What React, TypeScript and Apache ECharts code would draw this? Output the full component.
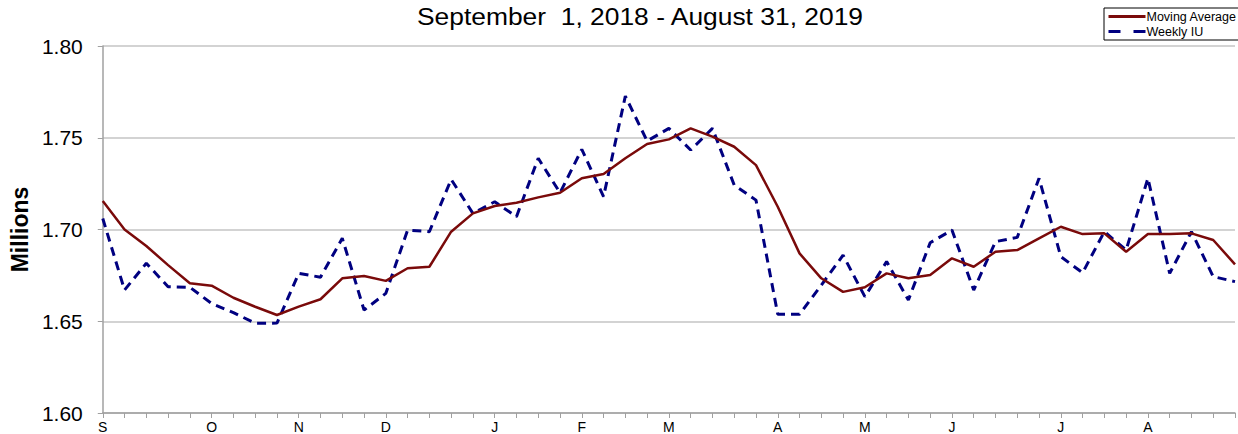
import React, { useEffect, useRef } from "react";
import * as echarts from "echarts";

const weekDates: string[] = [
  "2018-09-01", "2018-09-08", "2018-09-15", "2018-09-22", "2018-09-29",
  "2018-10-06", "2018-10-13", "2018-10-20", "2018-10-27",
  "2018-11-03", "2018-11-10", "2018-11-17", "2018-11-24",
  "2018-12-01", "2018-12-08", "2018-12-15", "2018-12-22", "2018-12-29",
  "2019-01-05", "2019-01-12", "2019-01-19", "2019-01-26",
  "2019-02-02", "2019-02-09", "2019-02-16", "2019-02-23",
  "2019-03-02", "2019-03-09", "2019-03-16", "2019-03-23", "2019-03-30",
  "2019-04-06", "2019-04-13", "2019-04-20", "2019-04-27",
  "2019-05-04", "2019-05-11", "2019-05-18", "2019-05-25",
  "2019-06-01", "2019-06-08", "2019-06-15", "2019-06-22", "2019-06-29",
  "2019-07-06", "2019-07-13", "2019-07-20", "2019-07-27",
  "2019-08-03", "2019-08-10", "2019-08-17", "2019-08-24", "2019-08-31",
];

const monthInitials: string[] = ["J", "F", "M", "A", "M", "J", "J", "A", "S", "O", "N", "D"];

const movingAverage: number[] = [
  1.7155, 1.700, 1.691, 1.6806, 1.6707, 1.6694, 1.6628, 1.6579, 1.6534, 1.658,
  1.662, 1.6734, 1.6747, 1.672, 1.6789, 1.6797, 1.6988, 1.7088, 1.7128, 1.7146,
  1.7175, 1.720, 1.7279, 1.7302, 1.7388, 1.7466, 1.7491, 1.7551, 1.7506, 1.7451,
  1.7351, 1.7124, 1.687, 1.6734, 1.666, 1.6685, 1.6761, 1.6734, 1.6752, 1.6843,
  1.6797, 1.6879, 1.6888, 1.6952, 1.7015, 1.6975, 1.6979, 1.6879, 1.6975, 1.6975,
  1.6979, 1.6943, 1.681,
];

const weeklyIU: number[] = [
  1.706, 1.667, 1.6816, 1.6688, 1.6685, 1.6597, 1.6547, 1.6489, 1.649, 1.6761,
  1.674, 1.6952, 1.6561, 1.6652, 1.6997, 1.6988, 1.7273, 1.7088, 1.7151, 1.707,
  1.7388, 1.720, 1.7437, 1.7179, 1.7727, 1.7482, 1.7551, 1.7433, 1.7551, 1.7242,
  1.716, 1.6538, 1.6538, 1.6697, 1.686, 1.6634, 1.6825, 1.6616, 1.6928, 1.6997,
  1.667, 1.6934, 1.6957, 1.7279, 1.6852, 1.6764, 1.6988, 1.6888, 1.7279, 1.6761,
  1.6988, 1.6743, 1.6716,
];

const titleText = "September  1, 2018 - August 31, 2019";
const FONT = "'Liberation Sans', Arial, sans-serif";

export default function App() {
  const ref = useRef<HTMLDivElement>(null);

  useEffect(() => {
    if (!ref.current) return;
    const chart = echarts.init(ref.current, null, { renderer: "svg" });
    chart.setOption({
      animation: false,
      backgroundColor: "#ffffff",
      textStyle: { fontFamily: FONT },
      graphic: [
        {
          type: "text",
          x: 640,
          y: 16,
          scaleX: 1.1,
          style: {
            text: titleText,
            font: `24px ${FONT}`,
            fill: "#000",
            textAlign: "center",
            textVerticalAlign: "middle",
          },
        },
      ],
      legend: {
        orient: "vertical",
        left: 1104,
        top: 8,
        padding: [2, 4, 2, 3],
        itemGap: 2,
        itemWidth: 37,
        itemHeight: 10,
        borderColor: "#000",
        borderWidth: 1,
        itemStyle: { opacity: 0 },
        textStyle: { fontSize: 12.5, color: "#000", fontFamily: FONT, padding: [0, 0, 0, -4] },
        data: [
          { name: "Moving Average", lineStyle: { width: 3 } },
          { name: "Weekly IU", lineStyle: { width: 3, type: [12, 13] } },
        ],
      },
      grid: { left: 102, top: 46, width: 1140, height: 367, containLabel: false },
      xAxis: {
        type: "category",
        data: weekDates,
        boundaryGap: false,
        axisLine: { lineStyle: { color: "#a0a0a0", width: 1.5 } },
        axisTick: { show: true, interval: 0, length: 5, lineStyle: { color: "#a0a0a0" } },
        axisLabel: {
          interval: 0,
          margin: 7,
          fontSize: 14,
          color: "#000",
          fontFamily: FONT,
          formatter: (v: string) => {
            const parts = v.split("-");
            const m = parseInt(parts[1], 10);
            const d = parseInt(parts[2], 10);
            return d <= 7 ? monthInitials[m - 1] : "";
          },
        },
        splitLine: { show: false },
      },
      yAxis: {
        type: "value",
        min: 1.6,
        max: 1.8,
        interval: 0.05,
        name: "Millions",
        nameLocation: "middle",
        nameGap: 64,
        nameTextStyle: { fontSize: 23, fontWeight: "bold", color: "#000", fontFamily: FONT },
        axisLine: { show: true, lineStyle: { color: "#a0a0a0", width: 1.5 } },
        axisTick: { show: true, length: 5, lineStyle: { color: "#a0a0a0" } },
        axisLabel: {
          margin: 20,
          fontSize: 21,
          color: "#000",
          fontFamily: FONT,
          formatter: (v: number) => v.toFixed(2),
        },
        splitLine: { show: true, lineStyle: { color: "#c4c4c4", width: 1.5 } },
      },
      series: [
        {
          name: "Moving Average",
          type: "line",
          data: movingAverage,
          symbol: "none",
          z: 3,
          lineStyle: { color: "#7a0a0a", width: 2.5 },
          itemStyle: { color: "#7a0a0a" },
        },
        {
          name: "Weekly IU",
          type: "line",
          data: weeklyIU,
          symbol: "none",
          z: 2,
          lineStyle: { color: "#000080", width: 3, type: [9, 6] },
          itemStyle: { color: "#000080" },
        },
      ],
    });
    return () => chart.dispose();
  }, []);

  return (
    <div
      ref={ref}
      style={{ position: "absolute", left: 0, top: 0, width: 1238, height: 434 }}
    />
  );
}
